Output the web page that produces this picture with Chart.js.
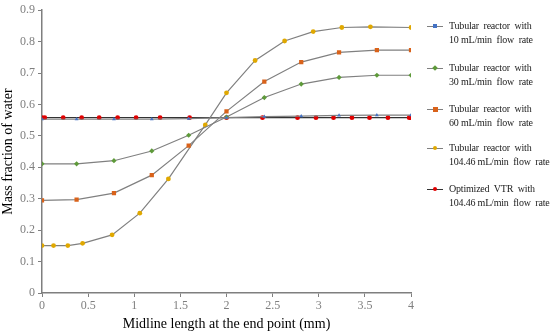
<!DOCTYPE html>
<html>
<head>
<meta charset="utf-8">
<script src="https://cdn.jsdelivr.net/npm/chart.js@4"></script>
<style>
  body { margin: 0; background: #fff; }
  #wrap { position: relative; width: 550px; height: 333px; }
  #legend { position: absolute; left: 425px; top: 0; font-family: "Liberation Serif", serif; font-size: 10px; color: #222; }
  .item { position: absolute; left: 0; width: 125px; line-height: 14px; }
  .item .ln { position: absolute; left: 2px; width: 16px; height: 1px; background: #777; }
  .item .mk { position: absolute; }
  .item .tx { position: absolute; left: 24px; top: 0; white-space: pre; letter-spacing: -0.2px; }
</style>
</head>
<body>
<div id="wrap">
  <canvas id="myChart" width="550" height="333"></canvas>
  <div id="legend"></div>
</div>
<script>
// x positions (mm) and mass fractions
const x_tube = [0, 0.375, 0.78, 1.19, 1.59, 2.0, 2.41, 2.81, 3.22, 3.63, 4.0];
const tube10 = [0.553, 0.553, 0.553, 0.553, 0.555, 0.558, 0.561, 0.563, 0.565, 0.566, 0.566];
const tube30 = [0.411, 0.411, 0.421, 0.452, 0.502, 0.560, 0.622, 0.665, 0.686, 0.693, 0.693];
const tube60 = [0.295, 0.297, 0.318, 0.375, 0.469, 0.578, 0.673, 0.735, 0.766, 0.773, 0.773];

const x_tube104 = [0, 0.125, 0.28, 0.44, 0.76, 1.06, 1.37, 1.77, 2.0, 2.31, 2.63, 2.94, 3.25, 3.56, 4.0];
const tube104 = [0.151, 0.151, 0.151, 0.158, 0.185, 0.254, 0.363, 0.535, 0.637, 0.740, 0.802, 0.832, 0.845, 0.847, 0.845];

const x_vtr = [0, 0.03, 0.23, 0.43, 0.62, 0.82, 1.02, 1.28, 1.6, 2.0, 2.39, 2.77, 2.97, 3.16, 3.36, 3.55, 3.75, 3.98, 4.0];
const vtr104 = [0.558, 0.558, 0.558, 0.558, 0.558, 0.558, 0.558, 0.558, 0.558, 0.558, 0.558, 0.558, 0.558, 0.558, 0.558, 0.558, 0.558, 0.558, 0.558];

const labels = [
  ["Tubular  reactor  with", "10 mL/min  flow  rate"],
  ["Tubular  reactor  with", "30 mL/min  flow  rate"],
  ["Tubular  reactor  with", "60 mL/min  flow  rate"],
  ["Tubular  reactor  with", "104.46 mL/min  flow  rate"],
  ["Optimized  VTR  with", "104.46 mL/min  flow  rate"]
];

function pts(xs, ys) { return xs.map((x, i) => ({x: x, y: ys[i]})); }

const serif = "'Liberation Serif', 'Times New Roman', serif";
const gray = '#7f7f7f';

const sets = [
  {data: pts(x_tube, tube10), color: '#4472c4', style: 'triangle', r: 2.2, line: '#808080'},
  {data: pts(x_tube, tube30), color: '#5e9a3a', style: 'rectRot', r: 2.6, line: '#808080'},
  {data: pts(x_tube, tube60), color: '#d9621a', style: 'rect', r: 3, line: '#808080'},
  {data: pts(x_tube104, tube104), color: '#e0a800', style: 'circle', r: 2.4, line: '#808080'},
  {data: pts(x_vtr, vtr104), color: '#e00000', style: 'circle', r: 2.4, line: '#333333'}
];

document.addEventListener("DOMContentLoaded", function(){
  const ctx = document.getElementById('myChart').getContext('2d');
  const myChart = new Chart(ctx, {
    type: 'line',
    data: {
      datasets: sets.map((s, i) => ({
        label: labels[i].join(' '),
        data: s.data,
        borderColor: s.line,
        borderWidth: 1.2,
        backgroundColor: s.color,
        pointBackgroundColor: s.color,
        pointBorderColor: s.color,
        pointStyle: s.style,
        pointRadius: s.r,
        pointBorderWidth: 0,
        fill: false,
        tension: 0
      }))
    },
    options: {
      responsive: false,
      animation: false,
      layout: { padding: { left: 0, right: 139, top: 7, bottom: 0 } },
      plugins: { legend: { display: false }, tooltip: { enabled: false } },
      scales: {
        x: {
          type: 'linear', min: 0, max: 4,
          border: { color: gray, width: 1.5 },
          grid: { drawOnChartArea: false, tickLength: 4, color: gray },
          ticks: { stepSize: 0.5, color: gray, font: { family: serif, size: 12 }, padding: 2,
                   callback: v => String(Math.round(v * 10) / 10) },
          title: { display: true, text: 'Midline length at the end point (mm)', color: '#000',
                   font: { family: serif, size: 14 }, padding: { top: 2, bottom: 0 } },
          afterFit: function(s) { s.height = 40; }
        },
        y: {
          min: 0, max: 0.9,
          border: { color: gray, width: 1.5 },
          grid: { drawOnChartArea: false, tickLength: 4, color: gray },
          ticks: { stepSize: 0.1, color: gray, font: { family: serif, size: 12 }, padding: 3,
                   callback: v => String(Math.round(v * 10) / 10) },
          title: { display: true, text: 'Mass fraction of water', color: '#000',
                   font: { family: serif, size: 14 }, padding: { top: 0, bottom: 4 } },
          afterFit: function(s) { s.width = 42; }
        }
      }
    }
  });

  // HTML legend on the right
  const leg = document.getElementById('legend');
  const tops = [19, 61, 102, 141, 182];
  sets.forEach((s, i) => {
    const d = document.createElement('div');
    d.className = 'item';
    d.style.top = tops[i] + 'px';
    const mk = document.createElement('span');
    mk.className = 'mk';
    const sz = Math.round(s.r * 1.6);
    mk.style.width = sz + 'px';
    mk.style.height = sz + 'px';
    mk.style.left = (10 - sz / 2) + 'px';
    mk.style.top = (7 - sz / 2) + 'px';
    mk.style.background = s.color;
    if (s.style === 'circle') mk.style.borderRadius = '50%';
    if (s.style === 'rectRot') mk.style.transform = 'rotate(45deg)';
    const ln = document.createElement('span');
    ln.className = 'ln';
    ln.style.top = '7px';
    ln.style.background = s.line;
    const tx = document.createElement('span');
    tx.className = 'tx';
    tx.textContent = labels[i][0] + '\n' + labels[i][1];
    d.appendChild(ln);
    d.appendChild(mk);
    d.appendChild(tx);
    leg.appendChild(d);
  });
});
</script>
</body>
</html>
